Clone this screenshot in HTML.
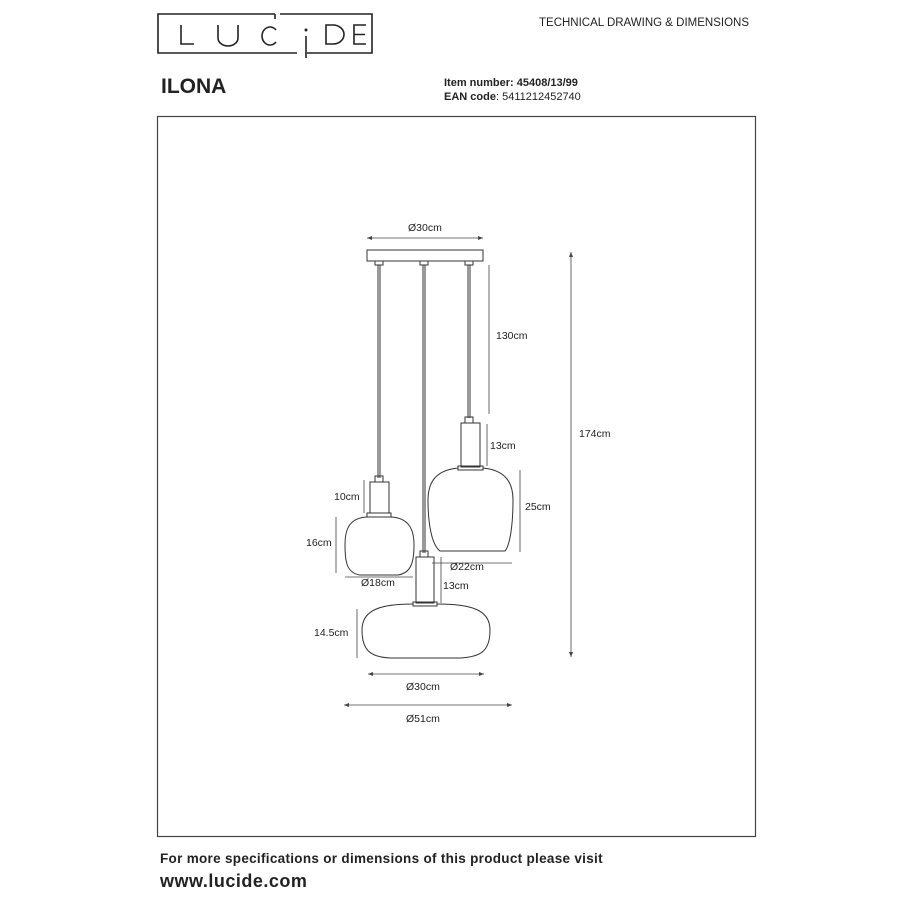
<!DOCTYPE html>
<html><head><meta charset="utf-8"><style>
html,body{margin:0;padding:0;background:#fff;}
svg{display:block;}
text{font-family:"Liberation Sans",sans-serif;fill:#222;}
</style></head><body>
<svg width="907" height="907" viewBox="0 0 907 907" xmlns="http://www.w3.org/2000/svg">
<!-- logo -->
<g stroke="#222" stroke-width="1.6" fill="none">
<path d="M275,14 H158 V53 H297"/>
<path d="M275,14 V19 M280,14 H372 V53 H307"/>
<path d="M306,36 V58"/>
<path d="M181,25 V44 H194"/>
<path d="M218,25 V38 A10,8 0 0 0 238,38 V25"/>
<path d="M276,30 A8,9 0 1 0 276,42"/>
<path d="M326,25 V44 H333 A11,9.5 0 0 0 333,25 Z"/>
<path d="M366,25 H354 V44 H366 M354,34.5 H365"/>
</g>
<circle cx="306" cy="30" r="1.5" fill="#222"/>
<text x="539" y="26" font-size="11.5">TECHNICAL DRAWING &amp; DIMENSIONS</text>
<text x="161" y="93" font-size="21" font-weight="bold">ILONA</text>
<text x="444" y="86" font-size="11" font-weight="bold">Item number: 45408/13/99</text>
<text x="444" y="100" font-size="11"><tspan font-weight="bold">EAN code</tspan>: 5411212452740</text>
<!-- frame -->
<rect x="157.5" y="116.5" width="598" height="720" fill="none" stroke="#444" stroke-width="1.2"/>
<!-- lamp -->
<g stroke="#333" stroke-width="1" fill="none">
<rect x="367" y="250" width="116" height="11"/>
<rect x="375" y="261" width="8" height="4"/><rect x="420" y="261" width="8" height="4"/><rect x="465" y="261" width="8" height="4"/>
<path d="M378,265 V478 M380,265 V478"/>
<path d="M423,265 V553 M425,265 V553"/>
<path d="M468,265 V418 M470,265 V418"/>
<!-- left -->
<rect x="375" y="476" width="8" height="6"/>
<rect x="370" y="482" width="19" height="31"/>
<rect x="367" y="513" width="24" height="4"/>
<path d="M367,517 C350,518 345,528 345,545 C345,560 346,573 360,575 H398 C412,573 414,560 414,545 C414,528 408,518 391,517"/>
<!-- right -->
<rect x="465" y="417" width="8" height="6"/>
<rect x="461" y="423" width="19" height="44"/>
<rect x="458" y="466" width="25" height="4"/>
<path d="M458,468 C438,470 428,480 428,500 C428,525 432,545 440,551 H505 C510,545 513,525 513,500 C513,480 503,470 483,468"/>
<!-- middle -->
<rect x="420" y="551" width="8" height="6"/>
<rect x="416" y="557" width="18" height="46"/>
<rect x="413" y="602" width="24" height="4"/>
<path d="M413,604 C380,604 362,610 362,630 C362,650 370,657 390,658 H460 C482,657 490,650 490,630 C490,610 472,604 437,604"/>
</g>
<!-- dimensions -->
<g stroke="#444" stroke-width="0.8" fill="none">
<path d="M367,238 H483"/>
<path d="M489,265 V414"/>
<path d="M487,424 V466"/>
<path d="M520,470 V552"/>
<path d="M432,563 H512"/>
<path d="M571,252 V657"/>
<path d="M364,480 V513"/>
<path d="M336,517 V573"/>
<path d="M345,577 H413"/>
<path d="M441,557 V603"/>
<path d="M357,609 V658"/>
<path d="M368,674 H484"/>
<path d="M344,705 H512"/>
</g>
<g fill="#444">
<path d="M367,238 l5,-2 v4z M483,238 l-5,-2 v4z"/>
<path d="M571,252 l-2,5 h4z M571,657 l-2,-5 h4z"/>
<path d="M344,705 l5,-2 v4z M512,705 l-5,-2 v4z"/>
<path d="M368,674 l5,-2 v4z M484,674 l-5,-2 v4z"/>
</g>
<g font-size="10.5">
<text x="408" y="231">Ø30cm</text>
<text x="496" y="339">130cm</text>
<text x="490" y="449">13cm</text>
<text x="525" y="510">25cm</text>
<text x="450" y="570">Ø22cm</text>
<text x="579" y="437">174cm</text>
<text x="334" y="500">10cm</text>
<text x="306" y="546">16cm</text>
<text x="361" y="586">Ø18cm</text>
<text x="443" y="589">13cm</text>
<text x="314" y="636">14.5cm</text>
<text x="406" y="690">Ø30cm</text>
<text x="406" y="722">Ø51cm</text>
</g>
<text x="160" y="863" font-size="13.5" font-weight="bold" letter-spacing="0.3">For more specifications or dimensions of this product please visit</text>
<text x="160" y="887" font-size="18" font-weight="bold" letter-spacing="0.5">www.lucide.com</text>
</svg>
</body></html>
